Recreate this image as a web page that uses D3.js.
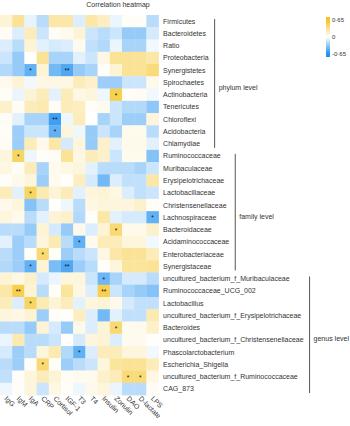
<!DOCTYPE html>
<html>
<head>
<meta charset="utf-8">
<script src="https://cdn.jsdelivr.net/npm/d3@7"></script>
<style>
  html, body { margin: 0; padding: 0; background: #fff; }
  svg { display: block; font-family: "Liberation Sans", Arial, sans-serif; }
</style>
</head>
<body>
<svg id="chart" width="350" height="426"></svg>
<script>
// Correlation heatmap — taxa (rows) vs serum markers (columns)

const COLS = ['IgG','IgM','IgA','CRP','Cortisol','IGF-1','T3','T4','Insulin','Zonulin','DAO','D-lactate','LPS'];

const ROWS = [
    'Firmicutes','Bacteroidetes','Ratio','Proteobacteria','Synergistetes','Spirochaetes',
    'Actinobacteria','Tenericutes','Chloroflexi','Acidobacteria','Chlamydiae',
    'Ruminococcaceae','Muribaculaceae','Erysipelotrichaceae','Lactobacillaceae',
    'Christensenellaceae','Lachnospiraceae','Bacteroidaceae','Acidaminococcaceae',
    'Enterobacteriaceae','Synergistaceae',
    'uncultured_bacterium_f_Muribaculaceae','Ruminococcaceae_UCG_002','Lactobacillus',
    'uncultured_bacterium_f_Erysipelotrichaceae','Bacteroides',
    'uncultured_bacterium_f_Christensenellaceae','Phascolarctobacterium',
    'Escherichia_Shigella','uncultured_bacterium_f_Ruminococcaceae','CAG_873'
];

// correlation coefficients, one row per taxon, in COLS order
const VALUES = [
    [ 0.12, 0.30,-0.07,-0.20, 0.25, 0.25,-0.10, 0.25, 0.18,-0.06, 0.02, 0.02,-0.20],
    [ 0.03,-0.10, 0.20,-0.15, 0.03, 0.05, 0.12,-0.15,-0.20,-0.15,-0.30,-0.30,-0.12],
    [-0.10,-0.20, 0.12,-0.08,-0.12,-0.10, 0.05,-0.18,-0.22,-0.06,-0.25,-0.25,-0.04],
    [-0.15,-0.30, 0.00, 0.30,-0.25,-0.25,-0.08,-0.15, 0.08, 0.30, 0.30, 0.30, 0.25],
    [-0.22,-0.30,-0.45, 0.12,-0.40,-0.50,-0.30,-0.25, 0.02, 0.12, 0.30, 0.30, 0.38],
    [ 0.05, 0.12,-0.04, 0.08, 0.08, 0.08, 0.20, 0.15,-0.28,-0.28,-0.15,-0.15, 0.06],
    [ 0.02,-0.06, 0.12, 0.20,-0.08, 0.20, 0.08, 0.10,-0.05, 0.50, 0.02, 0.03,-0.04],
    [ 0.15, 0.03, 0.20, 0.22, 0.03, 0.20, 0.18, 0.02, 0.05,-0.15,-0.22,-0.22,-0.32],
    [ 0.03,-0.08,-0.25,-0.25,-0.55,-0.05, 0.20, 0.00,-0.25,-0.15,-0.28,-0.28, 0.10],
    [ 0.02,-0.28,-0.15,-0.15,-0.45, 0.10,-0.05,-0.30,-0.15,-0.25, 0.05, 0.05,-0.20],
    [ 0.03,-0.28, 0.20, 0.06, 0.25,-0.12, 0.10,-0.30, 0.15,-0.08, 0.06, 0.06,-0.08],
    [ 0.10, 0.45,-0.05, 0.02, 0.03, 0.30, 0.08, 0.20, 0.15,-0.15, 0.05, 0.05,-0.35],
    [ 0.08, 0.03, 0.20,-0.25, 0.05, 0.08, 0.10,-0.08,-0.20,-0.20,-0.20,-0.25,-0.15],
    [ 0.02, 0.06, 0.10,-0.28, 0.05, 0.01, 0.18,-0.12,-0.40,-0.10,-0.18,-0.18, 0.25],
    [ 0.20,-0.08, 0.45, 0.22, 0.12, 0.20,-0.08, 0.10, 0.12, 0.08,-0.10,-0.18,-0.15],
    [ 0.06, 0.10,-0.35,-0.20, 0.01,-0.05,-0.20, 0.08, 0.10, 0.10, 0.10, 0.15, 0.02],
    [ 0.10, 0.06,-0.20,-0.08, 0.12, 0.15,-0.22, 0.02, 0.25,-0.08,-0.12,-0.12,-0.45],
    [-0.20,-0.20,-0.30, 0.12,-0.12,-0.30, 0.06,-0.10, 0.12, 0.40, 0.06, 0.06, 0.15],
    [-0.08,-0.28,-0.20, 0.10, 0.22,-0.20,-0.45, 0.05, 0.20, 0.20, 0.10, 0.10,-0.04],
    [-0.20,-0.28, 0.02, 0.40, 0.02,-0.28,-0.20,-0.15, 0.08, 0.25, 0.30, 0.30, 0.20],
    [-0.22,-0.28,-0.45, 0.12,-0.38,-0.50,-0.28,-0.20, 0.02, 0.10, 0.28, 0.28, 0.30],
    [ 0.12, 0.08, 0.15,-0.12,-0.06, 0.10, 0.10,-0.15,-0.42,-0.25,-0.12,-0.12,-0.20],
    [ 0.25, 0.50, 0.12,-0.20, 0.02, 0.28, 0.08,-0.10, 0.50,-0.15,-0.25,-0.30,-0.35],
    [ 0.20,-0.10, 0.45, 0.22, 0.12, 0.20,-0.08, 0.10, 0.12, 0.06,-0.12,-0.18,-0.18],
    [ 0.10, 0.08, 0.12,-0.28, 0.02, 0.01, 0.18,-0.10,-0.40,-0.08,-0.18,-0.18, 0.22],
    [-0.20,-0.20,-0.30, 0.12,-0.12,-0.30, 0.06,-0.10, 0.12, 0.40, 0.05, 0.05, 0.15],
    [-0.06, 0.22,-0.20,-0.20,-0.15, 0.01,-0.12, 0.10, 0.12,-0.10, 0.05, 0.05, 0.01],
    [-0.12,-0.28,-0.20, 0.10, 0.22,-0.22,-0.45,-0.10, 0.20, 0.20, 0.10, 0.10,-0.04],
    [-0.20,-0.28, 0.02, 0.40, 0.02,-0.28,-0.20,-0.15, 0.10, 0.28, 0.30, 0.30, 0.20],
    [-0.18, 0.02, 0.10, 0.20, 0.12, 0.03, 0.05, 0.05, 0.15, 0.20, 0.38, 0.38, 0.08],
    [-0.05, 0.02, 0.10,-0.15, 0.08, 0.02,-0.05, 0.06, 0.10,-0.06,-0.20,-0.20, 0.03]
];

// significance marks: [row, col, mark]
const SIG = [
    [4, 2, '*'], [4, 5, '**'], [6, 9, '*'], [8, 4, '**'], [9, 4, '*'],
    [11, 1, '*'], [14, 2, '*'], [16, 12, '*'], [17, 9, '*'], [18, 6, '*'],
    [19, 3, '*'], [20, 2, '*'], [20, 5, '**'], [21, 8, '*'], [22, 1, '**'],
    [22, 8, '**'], [23, 2, '*'], [25, 9, '*'], [27, 6, '*'], [28, 3, '*'],
    [29, 10, '*'], [29, 11, '*']
];

const GROUPS = [
    { name: 'phylum level', first: 0,  last: 10 },
    { name: 'family level', first: 11, last: 20 },
    { name: 'genus level',  first: 21, last: 30 }
];

const LEGEND_TICKS = [0.65, 0, -0.65];
const TITLE = 'Correlation heatmap';

// ── Layout ────────────────────────────────────────────────────────────────
const GRID = { left: 0, top: 15, cellW: 12.2, cellH: 12.26 };
const FONT = 7;
const TEXT = '#333';

const svg = d3.select('#chart');

const x = d3.scaleBand().domain(d3.range(COLS.length))
    .range([GRID.left, GRID.left + GRID.cellW * COLS.length]);
const y = d3.scaleBand().domain(d3.range(ROWS.length))
    .range([GRID.top, GRID.top + GRID.cellH * ROWS.length]);

const color = d3.scaleLinear()
    .domain([-0.65, 0, 0.65])
    .range(['#1c8ef0', '#ffffff', '#f4c21c'])
    .clamp(true);

// title
svg.append('text')
    .attr('x', 118).attr('y', 7)
    .attr('text-anchor', 'middle')
    .attr('font-size', FONT + 'px')
    .attr('fill', TEXT)
    .text(TITLE);

// cells
const cells = [];
VALUES.forEach((row, r) => row.forEach((v, c) => cells.push({ r, c, v })));

svg.append('g').selectAll('rect')
    .data(cells)
    .join('rect')
    .attr('x', d => x(d.c))
    .attr('y', d => y(d.r))
    .attr('width', x.bandwidth() + 0.3)
    .attr('height', y.bandwidth() + 0.3)
    .attr('fill', d => color(d.v));

// significance stars
svg.append('g').selectAll('text')
    .data(SIG)
    .join('text')
    .attr('x', d => x(d[1]) + x.bandwidth() / 2)
    .attr('y', d => y(d[0]) + y.bandwidth() / 2 + 3)
    .attr('text-anchor', 'middle')
    .attr('font-size', '6.5px')
    .attr('fill', '#111')
    .text(d => d[2]);

// row labels
const labelX = x.range()[1] + 4.5;
const rowLabels = svg.append('g').selectAll('text')
    .data(ROWS)
    .join('text')
    .attr('x', labelX)
    .attr('y', (d, i) => y(i) + y.bandwidth() / 2)
    .attr('dominant-baseline', 'central')
    .attr('font-size', FONT + 'px')
    .attr('fill', TEXT)
    .text(d => d);

// column labels (rotated)
const colY = y.range()[1] + 4;
svg.append('g').selectAll('text')
    .data(COLS)
    .join('text')
    .attr('transform', (d, i) => `translate(${x(i) + x.bandwidth() / 2 - 2},${colY}) rotate(45)`)
    .attr('text-anchor', 'start')
    .attr('font-size', FONT + 'px')
    .attr('fill', TEXT)
    .text(d => d);

// group brackets
const widths = rowLabels.nodes().map(n => n.getComputedTextLength());
GROUPS.forEach(g => {
    const bx = labelX + d3.max(widths.slice(g.first, g.last + 1)) + 6;
    const y1 = y(g.first) + 4;
    const y2 = y(g.last) + y.bandwidth() - 2;
    svg.append('line')
        .attr('x1', bx).attr('x2', bx)
        .attr('y1', y1).attr('y2', y2)
        .attr('stroke', '#555').attr('stroke-width', 1);
    svg.append('text')
        .attr('x', bx + 4)
        .attr('y', (y1 + y2) / 2 + 4)
        .attr('dominant-baseline', 'central')
        .attr('font-size', FONT + 'px')
        .attr('fill', TEXT)
        .text(g.name);
});

// colour legend
const LEG = { x: 326, top: 17, bottom: 57, w: 4 };
const legY = d3.scaleLinear().domain([0.75, -0.75]).range([LEG.top, LEG.bottom]);

const defs = svg.append('defs');
const grad = defs.append('linearGradient').attr('id', 'leg-grad')
    .attr('x1', 0).attr('y1', 0).attr('x2', 0).attr('y2', 1);
d3.range(0, 1.001, 0.1).forEach(t => {
    grad.append('stop')
        .attr('offset', `${t * 100}%`)
        .attr('stop-color', color(legY.invert(LEG.top + t * (LEG.bottom - LEG.top))));
});

svg.append('rect')
    .attr('x', LEG.x).attr('y', LEG.top)
    .attr('width', LEG.w).attr('height', LEG.bottom - LEG.top)
    .attr('fill', 'url(#leg-grad)');

svg.append('g').selectAll('text')
    .data(LEGEND_TICKS)
    .join('text')
    .attr('x', LEG.x + LEG.w + 2)
    .attr('y', d => legY(d))
    .attr('dominant-baseline', 'central')
    .attr('font-size', '6px')
    .attr('fill', TEXT)
    .text(d => d === 0 ? '0' : (d < 0 ? '-' : '') + String(Math.abs(d)).replace('.', '·'));
</script>
</body>
</html>
